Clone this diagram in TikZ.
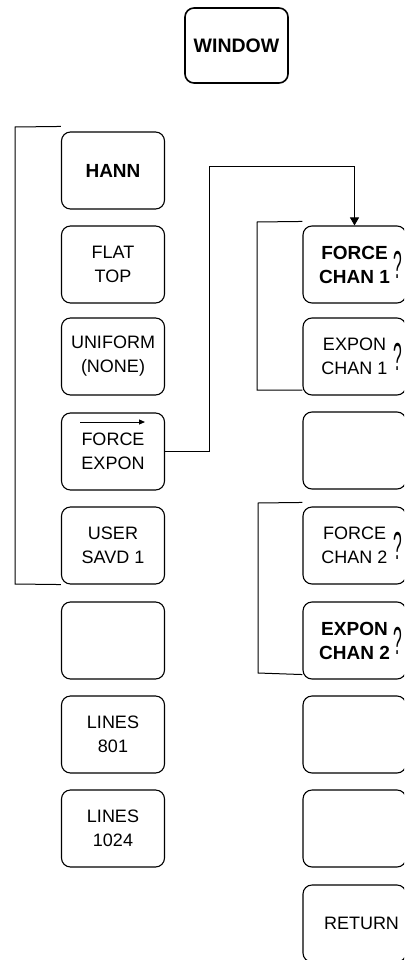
\documentclass[tikz,border=0pt]{standalone}
\usepackage{fontspec}
\setmainfont{Liberation Sans}
\usepackage{graphicx}
\usetikzlibrary{arrows.meta}
\tikzset{
  key/.style={draw=black, line width=1.1pt, rounded corners=9pt,
    minimum width=103pt, minimum height=77pt, inner sep=0pt,
    align=center, font=\fontsize{18}{24}\selectfont},
  keyb/.style={key, font=\fontsize{19}{24}\selectfont\bfseries},
  wire/.style={draw=black, line width=1pt},
  qmark/.style={inner sep=0pt, font=\fontsize{26}{26}\selectfont}
}
\newcommand{\qm}{\scalebox{0.6}[1.5]{?}}
\begin{document}
\begin{tikzpicture}[x=1pt,y=-1pt]
\useasboundingbox (0,0) rectangle (404,960);
\clip (0,0) rectangle (404,960);
% top key
\node[keyb, line width=1.6pt, minimum height=75pt,
  font=\fontsize{19.5}{24}\selectfont\bfseries] (win) at (236.5,45.5) {WINDOW};
% left column
\node[keyb] (hann) at (113,170.5) {HANN};
\node[key] (flat) at (113,264.5) {FLAT\\TOP};
\node[key] (unif) at (113,356.5) {UNIFORM\\(NONE)};
\node[key] (fe) at (113,451.5) {FORCE\\EXPON};
\node[key] (usr) at (113,545.5) {USER\\SAVD 1};
\node[key] (lblank) at (113,640.5) {};
\node[key] (l801) at (113,734.5) {LINES\\801};
\node[key] (l1024) at (113,828.5) {LINES\\1024};
% right column
\node[keyb] (fc1) at (354.5,264.5) {FORCE\\CHAN 1};
\node[key] (ec1) at (354.5,356.5) {EXPON\\CHAN 1};
\node[key] (rblank1) at (354.5,450.5) {};
\node[key] (fc2) at (354.5,545.5) {FORCE\\CHAN 2};
\node[keyb] (ec2) at (354.5,640.5) {EXPON\\CHAN 2};
\node[key] (rblank2) at (354.5,734.5) {};
\node[key] (rblank3) at (354.5,828.5) {};
\node[key] (ret) at (354.5,923.5) {\hspace*{14pt}RETURN};
% handwritten question marks
\node[qmark] (q1) at (398,264.5) {\qm};
\node[qmark] (q2) at (398,356.5) {\qm};
\node[qmark] (q3) at (398,545.5) {\qm};
\node[qmark] (q4) at (398,640.5) {\qm};
% arrow over FORCE EXPON
\draw[line width=1pt, -{Triangle[width=5pt,length=6pt]}]
  ([xshift=-33pt,yshift=29.5pt]fe.center) -- ([xshift=32pt,yshift=29.5pt]fe.center);
% left bracket
\coordinate (lb1) at (15,127);
\coordinate (lb2) at (15,584);
\draw[wire] ([yshift=5pt]hann.north west) -- (lb1) -- (lb2) -- (usr.south west);
% FORCE EXPON to FORCE CHAN 1
\coordinate (c1) at (209,451.5);
\coordinate (c2) at (209,167);
\draw[wire, -{Triangle[width=9pt,length=8pt]}] (fe.east) -- (c1) -- (c2) -| (fc1.north);
% right brackets
\coordinate (rb1) at (257,222);
\coordinate (rb2) at (257,390);
\draw[wire] ([yshift=4pt]fc1.north west) -- (rb1) -- (rb2) -- ([yshift=5.5pt]ec1.south west);
\coordinate (rb3) at (258,503);
\coordinate (rb4) at (258,673);
\draw[wire] ([yshift=4pt]fc2.north west) -- (rb3) -- (rb4) -- ([yshift=5pt]ec2.south west);
\end{tikzpicture}
\end{document}
